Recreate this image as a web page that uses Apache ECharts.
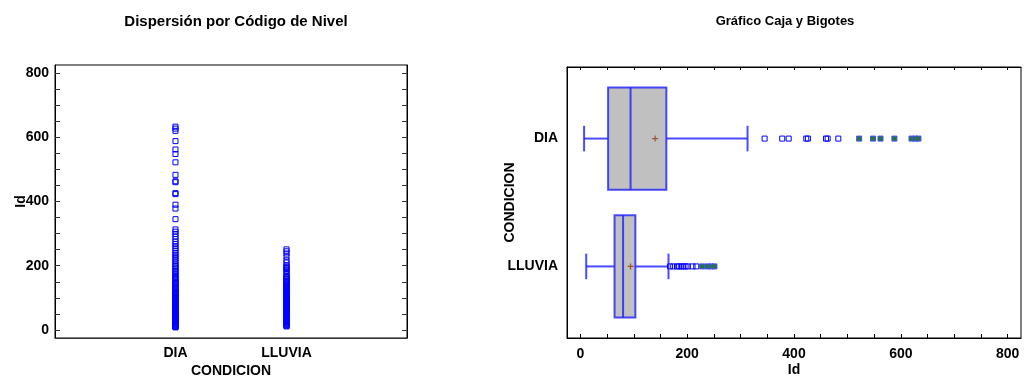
<!DOCTYPE html>
<html>
<head>
<meta charset="utf-8">
<script src="https://cdn.jsdelivr.net/npm/echarts@6/dist/echarts.min.js"></script>
<style>
  html, body { margin: 0; padding: 0; background: #fff; }
  #container { width: 1024px; height: 379px; }
</style>
</head>
<body>
<div id="container"></div>
<script>
var dom = document.getElementById('container');
var myChart = echarts.init(dom, null, { renderer: 'canvas' });

const categories = ['DIA', 'LLUVIA'];
const diaValues = [8, 9, 11, 12, 14, 15, 17, 18, 20, 21, 23, 25, 26, 28, 30, 31, 33, 35, 36, 38,
  40, 41, 43, 45, 47, 48, 50, 52, 53, 55, 57, 58, 60, 62, 64, 65, 67, 69, 71, 72,
  74, 76, 78, 80, 82, 84, 86, 88, 90, 92, 94, 96, 98, 100, 102, 105, 107, 110, 112, 115,
  117, 120, 123, 126, 129, 132, 135, 138, 141, 144, 147, 150,
  154, 158, 162, 166, 170, 175, 180, 184, 189, 194, 199, 204, 210, 216, 222, 228, 234,
  240, 247, 254, 261, 268, 275, 283, 291, 299, 306, 313,
  345, 378, 390, 423, 426, 460, 463, 483, 522, 548, 562, 588, 620, 627, 633];
const lluviaValues = [11, 13, 15, 17, 19, 21, 23, 25, 27, 29, 31, 33, 35, 37, 39, 41, 43, 45, 47, 49,
  51, 53, 55, 57, 59, 61, 62, 63, 64, 65, 66, 67, 68, 69, 70, 71, 72, 73, 74, 75,
  76, 77, 78, 79, 80, 81, 82, 83, 84, 85, 86, 87, 88, 89, 90, 91, 92, 93, 94, 95,
  96, 97, 98, 99, 100, 101, 102, 103, 105, 107, 109, 111, 113, 115, 117, 119, 121, 123, 125, 127,
  129, 131, 133, 135, 137, 139, 142, 145, 148, 151, 154, 157, 160, 163, 165,
  168, 174, 181, 185, 189, 193, 197, 201, 210, 217, 228, 238, 245, 251];

// box statistics: [min whisker, Q1, median, Q3, max whisker]
const boxStats = [
  [7, 52, 94, 161, 313],
  [11, 64, 80, 103, 165]
];
const means = [140, 94];

const valueLabels = [0, 200, 400, 600, 800];
const valueTicks = [0, 50, 100, 150, 200, 250, 300, 350, 400, 450, 500, 550, 600, 650, 700, 750, 800];

const allValues = [diaValues, lluviaValues];
const font = { fontFamily: 'Liberation Sans, Arial, sans-serif', fontWeight: 'bold', color: '#000' };

// scatter points
const scatterData = [];
allValues.forEach((vals, i) => vals.forEach(v => scatterData.push([i, v])));

// outliers beyond whiskers; far ones beyond Q3 + 3 IQR
const outsideData = [];
const farData = [];
allValues.forEach((vals, i) => {
  const s = boxStats[i];
  const far = s[3] + 3 * (s[3] - s[1]);
  vals.forEach(v => {
    if (v > s[4]) {
      if (v > far) farData.push([v, i]);
      else outsideData.push([v, i]);
    }
  });
});

const boxData = boxStats.map((s, i) => [i].concat(s));
const meanData = means.map((m, i) => [m, i]);

const blue = '#0000ff';

var option = {
  animation: false,
  title: [
    { text: 'Dispersión por Código de Nivel', left: 231, top: 9, textAlign: 'center',
      textStyle: Object.assign({ fontSize: 15 }, font) },
    { text: 'Gráfico Caja y Bigotes', left: 780, top: 10, textAlign: 'center',
      textStyle: Object.assign({ fontSize: 13 }, font) }
  ],
  grid: [
    { left: 55, top: 65, width: 352, height: 273, show: true, borderColor: '#000', borderWidth: 1,
      outerBoundsMode: 'none' },
    { left: 567, top: 67, width: 454, height: 271, show: true, borderColor: '#000', borderWidth: 1,
      outerBoundsMode: 'none' }
  ],
  xAxis: [
    {
      gridIndex: 0, type: 'value', min: -1.085, max: 2.085,
      name: 'CONDICION', nameLocation: 'middle', nameGap: 26, nameMoveOverlap: false,
      nameTextStyle: Object.assign({ fontSize: 14 }, font),
      axisLine: { onZero: false, lineStyle: { color: '#333' } },
      axisTick: { show: false },
      splitLine: { show: false },
      axisLabel: Object.assign({ fontSize: 14, margin: 8, customValues: [0, 1],
        formatter: v => categories[Math.round(v)] }, font)
    },
    {
      gridIndex: 1, type: 'value', min: -25, max: 825,
      name: 'Id', nameLocation: 'middle', nameGap: 25, nameMoveOverlap: false,
      nameTextStyle: Object.assign({ fontSize: 14 }, font),
      axisLine: { onZero: false, lineStyle: { color: '#000' } },
      axisTick: { inside: true, length: 4, customValues: valueTicks, lineStyle: { color: '#000' } },
      splitLine: { show: false },
      axisLabel: Object.assign({ fontSize: 14, margin: 9, customValues: valueLabels }, font)
    },
    {
      gridIndex: 1, type: 'value', min: -25, max: 825, position: 'top',
      axisLine: { onZero: false, lineStyle: { color: '#000' } },
      axisTick: { inside: true, length: 3, customValues: valueTicks, lineStyle: { color: '#000' } },
      splitLine: { show: false },
      axisLabel: { show: false }
    }
  ],
  yAxis: [
    {
      gridIndex: 0, type: 'value', min: -25, max: 825,
      name: 'Id', nameLocation: 'middle', nameGap: 27, nameRotate: 90, nameMoveOverlap: false,
      nameTextStyle: Object.assign({ fontSize: 14 }, font),
      axisLine: { onZero: false, lineStyle: { color: '#000' } },
      axisTick: { inside: true, length: 5, customValues: valueTicks, lineStyle: { color: '#333' } },
      splitLine: { show: false },
      axisLabel: Object.assign({ fontSize: 14, margin: 6, customValues: valueLabels }, font)
    },
    {
      gridIndex: 0, type: 'value', min: -25, max: 825, position: 'right',
      axisLine: { onZero: false, lineStyle: { color: '#000' } },
      axisTick: { inside: true, length: 5, customValues: valueTicks, lineStyle: { color: '#333' } },
      splitLine: { show: false },
      axisLabel: { show: false }
    },
    {
      gridIndex: 1, type: 'value', min: -0.56, max: 1.56, inverse: true,
      name: 'CONDICION', nameLocation: 'middle', nameGap: 50, nameRotate: 90, nameMoveOverlap: false,
      nameTextStyle: Object.assign({ fontSize: 14 }, font),
      axisLine: { onZero: false, lineStyle: { color: '#000' } },
      axisTick: { show: false },
      splitLine: { show: false },
      axisLabel: Object.assign({ fontSize: 14, margin: 9, customValues: [0, 1],
        formatter: v => categories[Math.round(v)] }, font)
    }
  ],
  series: [
    {
      type: 'scatter', xAxisIndex: 0, yAxisIndex: 0,
      symbol: 'rect', symbolSize: 5,
      itemStyle: { color: 'rgba(0,0,0,0)', borderColor: blue, borderWidth: 1, opacity: 1 },
      data: scatterData
    },
    {
      type: 'custom', xAxisIndex: 1, yAxisIndex: 2,
      data: boxData,
      renderItem: function (params, api) {
        const cat = api.value(0);
        const lo = api.coord([api.value(1), cat]);
        const q1 = api.coord([api.value(2), cat]);
        const md = api.coord([api.value(3), cat]);
        const q3 = api.coord([api.value(4), cat]);
        const hi = api.coord([api.value(5), cat]);
        const h = api.size([0, 0.8])[1];
        const cap = api.size([0, 0.2])[1];
        const y = lo[1];
        const ls = { stroke: 'rgba(30,30,255,0.8)', lineWidth: 2, fill: null };
        return {
          type: 'group',
          children: [
            { type: 'line', shape: { x1: lo[0], y1: y, x2: q1[0], y2: y }, style: ls },
            { type: 'line', shape: { x1: q3[0], y1: y, x2: hi[0], y2: y }, style: ls },
            { type: 'line', shape: { x1: lo[0], y1: y - cap / 2, x2: lo[0], y2: y + cap / 2 }, style: ls },
            { type: 'line', shape: { x1: hi[0], y1: y - cap / 2, x2: hi[0], y2: y + cap / 2 }, style: ls },
            { type: 'rect', shape: { x: q1[0], y: y - h / 2, width: q3[0] - q1[0], height: h },
              style: { fill: '#c0c0c0', stroke: 'rgba(30,30,255,0.8)', lineWidth: 2 } },
            { type: 'line', shape: { x1: md[0], y1: y - h / 2, x2: md[0], y2: y + h / 2 }, style: ls }
          ]
        };
      }
    },
    {
      type: 'scatter', xAxisIndex: 1, yAxisIndex: 2,
      symbol: 'path://M2,0H3V2H5V3H3V5H2V3H0V2H2Z', symbolSize: 6,
      itemStyle: { color: '#a0522d', opacity: 1 },
      data: meanData
    },
    {
      type: 'scatter', xAxisIndex: 1, yAxisIndex: 2,
      symbol: 'rect', symbolSize: 5,
      itemStyle: { color: 'rgba(0,0,0,0)', borderColor: blue, borderWidth: 1, opacity: 1 },
      data: outsideData
    },
    {
      type: 'scatter', xAxisIndex: 1, yAxisIndex: 2,
      symbol: 'rect', symbolSize: 5,
      itemStyle: { color: '#1f7a3a', borderColor: '#4a4aff', borderWidth: 1, opacity: 1 },
      data: farData
    }
  ]
};

myChart.setOption(option);
window.addEventListener('resize', myChart.resize);
</script>
</body>
</html>
